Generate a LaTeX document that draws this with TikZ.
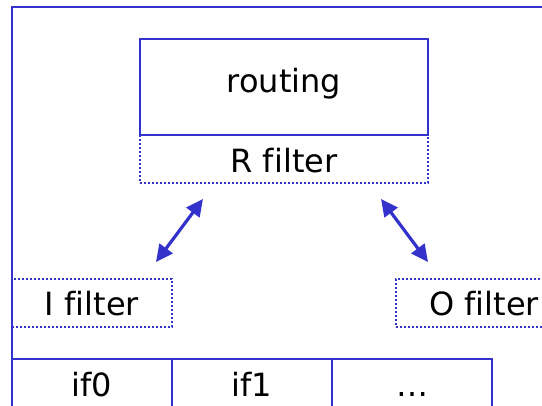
\documentclass[tikz,border=0pt]{standalone}
\usepackage{fontspec}
\setmainfont[Ligatures=NoCommon]{DejaVu Sans}
\usetikzlibrary{arrows.meta}
\definecolor{fblue}{RGB}{51,51,204}
\begin{document}
\begin{tikzpicture}[x=1pt,y=-1pt,
  every node/.style={inner sep=0pt,outer sep=0pt,font=\fontsize{32}{38}\selectfont},
  solidbox/.style={draw=fblue,line width=2pt,rectangle},
  dotbox/.style={draw=fblue,line width=1.8pt,dash pattern=on 1.8pt off 2.2pt,rectangle},
  biarrow/.style={draw=fblue,line width=3.2pt,{Triangle[length=17pt,width=16pt]}-{Triangle[length=17pt,width=16pt]}}
]
\useasboundingbox (0,0) rectangle (542,406);
\clip (0,0) rectangle (542,406);
% outer frame
\node[solidbox,anchor=north west,minimum width=580,minimum height=450] (frame) at (12,7) {};
% routing and R filter
\node[dotbox,minimum width=288,minimum height=48,text height=30,text depth=2] (rfilter) at (284,159) {R filter};
\node[solidbox,minimum width=288,minimum height=96,text height=22,text depth=10] (routing) at (284,87) {routing};
% I and O filters
\node[dotbox,minimum width=160,minimum height=48,text height=28,text depth=2] (ifilter) at (92,303) {I filter};
\node[dotbox,minimum width=176,minimum height=48,text height=28,text depth=2] (ofilter) at (484,303) {O filter};
% interface cells
\node[solidbox,minimum width=160,minimum height=76,text height=15,text depth=15] (if0) at (92,397) {if0};
\node[solidbox,minimum width=160,minimum height=76,text height=15,text depth=15] (if1) at (252,397) {if1};
\node[solidbox,minimum width=160,minimum height=76,text height=15,text depth=15] (ifn) at (412,397) {…};
% arrows
\coordinate (la) at (156,262);
\coordinate (lb) at (203,199);
\coordinate (ra) at (381,199);
\coordinate (rb) at (428,262);
\draw[biarrow] (la) -- (lb);
\draw[biarrow] (ra) -- (rb);
\end{tikzpicture}
\end{document}
